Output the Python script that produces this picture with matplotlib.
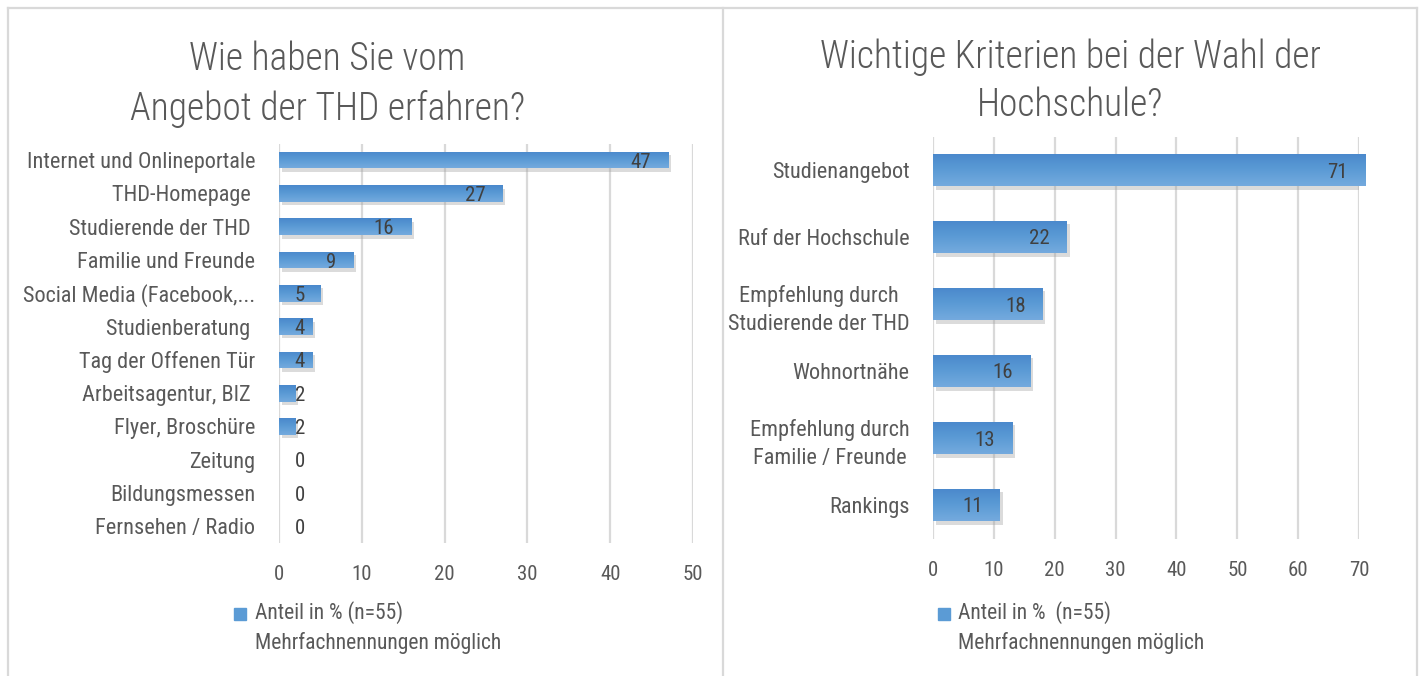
import matplotlib
matplotlib.use("Agg")
import matplotlib.pyplot as plt
import matplotlib.patheffects as pe
from matplotlib import font_manager
from matplotlib.colors import LinearSegmentedColormap
from matplotlib.lines import Line2D
import numpy as np

_avail = {f.name for f in font_manager.fontManager.ttflist}
_pref = ['Roboto Condensed', 'Open Sans Condensed', 'Liberation Sans Narrow', 'Roboto']
FONT = next((f for f in _pref if f in _avail), 'DejaVu Sans')
plt.rcParams['font.family'] = [FONT, 'DejaVu Sans']

# ---------------- data ----------------
left_categories = ["Internet und Onlineportale", "THD-Homepage ", "Studierende der THD ",
                   "Familie und Freunde", "Social Media (Facebook,...", "Studienberatung ",
                   "Tag der Offenen Tür", "Arbeitsagentur, BIZ ", "Flyer, Broschüre",
                   "Zeitung", "Bildungsmessen", "Fernsehen / Radio"]
left_values = [47, 27, 16, 9, 5, 4, 4, 2, 2, 0, 0, 0]
left_ticks = [0, 10, 20, 30, 40, 50]

right_categories = ["Studienangebot", "Ruf der Hochschule",
                    "Empfehlung durch\nStudierende der THD", "Wohnortnähe",
                    "Empfehlung durch\nFamilie / Freunde", "Rankings"]
right_values = [71, 22, 18, 16, 13, 11]
right_ticks = [0, 10, 20, 30, 40, 50, 60, 70]

left_title = ["Wie haben Sie vom", "Angebot der THD erfahren?"]
right_title = ["Wichtige Kriterien bei der Wahl der", "Hochschule?"]
left_legend = "Anteil in % (n=55)"
right_legend = "Anteil in %  (n=55)"
note = "Mehrfachnennungen möglich"

# ---------------- style ----------------
W, H = 1423, 676
TXT = '#595959'
LBL = '#404040'
GRID = '#d9d9d9'
BLUE = '#5b9bd5'
grad = LinearSegmentedColormap.from_list('g', ['#4a88cc', '#5b9bd5', '#74aade'])

fig = plt.figure(figsize=(W / 100, H / 100), dpi=100)
fig.patch.set_facecolor('white')


def px_box(x0, x1, ytop, ybot):
    return [x0 / W, 1 - ybot / H, (x1 - x0) / W, (ybot - ytop) / H]


def draw_panel(rect, cats, vals, ticks, bar_h, label_pad):
    ax = fig.add_axes(rect)
    n = len(cats)
    y = np.arange(n)
    xmax = ticks[-1]
    for s in ax.spines.values():
        s.set_visible(False)
    ax.set_xticks(ticks)
    ax.grid(axis='x', color=GRID, linewidth=1.6)
    ax.set_axisbelow(True)
    ax.tick_params(axis='x', length=0, pad=16, labelsize=15, labelcolor=TXT)
    ax.set_yticks(y)
    ax.set_yticklabels(cats, fontsize=16, color=TXT, multialignment='center', linespacing=1.45)
    ax.tick_params(axis='y', length=0, pad=label_pad)

    bars = ax.barh(y, vals, height=bar_h, color=BLUE, zorder=3,
                   path_effects=[pe.withSimplePatchShadow(offset=(2, -2.5), shadow_rgbFace='#9a9a9a', alpha=0.35),
                                 pe.Normal()])
    gimg = np.linspace(0, 1, 64).reshape(-1, 1)
    for b, yi, v in zip(bars, y, vals):
        if v <= 0:
            continue
        im = ax.imshow(gimg, cmap=grad, extent=[0, v, yi + bar_h / 2, yi - bar_h / 2],
                       aspect='auto', zorder=4, origin='upper')
        im.set_clip_path(b)
    ax.set_xlim(0, xmax)
    ax.set_ylim(n - 0.5, -0.5)

    axw_px = rect[2] * W
    min_v = 43 / axw_px * xmax
    for yi, v in zip(y, vals):
        ax.annotate(str(v), xy=(max(v, min_v), yi), xytext=(-17, -2),
                    textcoords='offset pixels', ha='right', va='center',
                    fontsize=15, color=LBL, zorder=6, annotation_clip=False)
    return ax


axL = draw_panel(px_box(279, 693, 143.5, 543), left_categories, left_values, left_ticks, 0.5, 17)
axR = draw_panel(px_box(933, 1359, 136.5, 538.5), right_categories, right_values, right_ticks, 0.48, 17)

# titles
tkw = dict(ha='center', va='center', fontsize=27, color=TXT, fontweight='light')
fig.text(327 / W, 1 - 59 / H, left_title[0], **tkw)
fig.text(327 / W, 1 - 109 / H, left_title[1], **tkw)
fig.text(1070 / W, 1 - 57 / H, right_title[0], **tkw)
fig.text(1070 / W, 1 - 105 / H, right_title[1], **tkw)

# legends
for sx, tx, lab in [(240, 255, left_legend), (944, 958, right_legend)]:
    fig.add_artist(Line2D([sx / W], [1 - 614 / H], marker='s', markersize=9,
                          color=BLUE, linestyle='none', transform=fig.transFigure))
    fig.text(tx / W, 1 - 613 / H, lab, ha='left', va='center', fontsize=15.5, color=TXT)
    fig.text(tx / W, 1 - 643 / H, note, ha='left', va='center', fontsize=15.5, color=TXT)

# panel borders
for xs, ys in [([8, 1417], [8, 8]), ([8, 8], [8, 676]), ([723, 723], [8, 676]), ([1417, 1417], [8, 676])]:
    fig.add_artist(Line2D([x / W for x in xs], [1 - v / H for v in ys], color=GRID,
                          linewidth=1.6, transform=fig.transFigure))

fig.savefig('out.png', dpi=100, facecolor='white')
